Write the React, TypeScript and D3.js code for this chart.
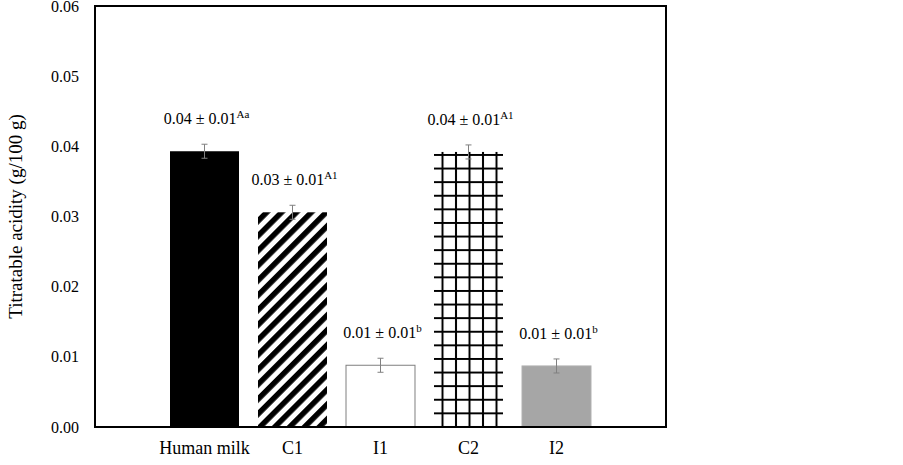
import React from 'react';
import * as d3 from 'd3';

const categories = ['Human milk', 'C1', 'I1', 'C2', 'I2'];
const means = [0.0393, 0.0306, 0.0088, 0.0392, 0.0087];
const errors = [0.001, 0.001, 0.001, 0.001, 0.001];
const labelMain = ['0.04 ± 0.01', '0.03 ± 0.01', '0.01 ± 0.01', '0.04 ± 0.01', '0.01 ± 0.01'];
const labelSup = ['Aa', 'A1', 'b', 'A1', 'b'];
const yTicks = [0, 0.01, 0.02, 0.03, 0.04, 0.05, 0.06];

const W = 903;
const H = 465;
const plot = { left: 95, right: 666, top: 6, bottom: 427 };
const font = '"Liberation Serif", "Times New Roman", serif';

const App = () => {
  const x = d3.scaleBand<string>()
    .domain(categories)
    .range([160.5, 600.5])
    .paddingInner(0.216)
    .paddingOuter(0.108);

  const y = d3.scaleLinear()
    .domain([0, 0.06])
    .range([plot.bottom, plot.top]);

  const bw = x.bandwidth();
  const fmt = d3.format('.2f');

  const c2x = x('C2') as number;
  const c2top = y(means[3]);

  const barFill = (c: string) => {
    if (c === 'Human milk') return '#000000';
    if (c === 'C1') return 'url(#stripes)';
    if (c === 'I1') return '#ffffff';
    if (c === 'C2') return 'url(#grid)';
    return '#a6a6a6';
  };
  const barStroke = (c: string) => {
    if (c === 'I1') return '#7f7f7f';
    if (c === 'I2') return '#b0b0b0';
    return 'none';
  };

  return (
    <div style={{ position: 'absolute', left: 0, top: 0 }}>
      <svg width={W} height={H} style={{ display: 'block', background: '#fff' }}>
        <defs>
          <pattern id="stripes" patternUnits="userSpaceOnUse" width={10.5} height={10.5}
            patternTransform="rotate(45)">
            <rect x={0} y={0} width={5.5} height={10.5} fill="#000" />
          </pattern>
          <pattern id="grid" patternUnits="userSpaceOnUse" width={13.5} height={13.6}
            x={c2x + 8.5 - 6.75} y={c2top + 3 - 6.8}>
            <line x1={6.75} x2={6.75} y1={0} y2={13.6} stroke="#000" strokeWidth={2} />
            <line x1={0} x2={13.5} y1={6.8} y2={6.8} stroke="#000" strokeWidth={2} />
          </pattern>
        </defs>

        {/* y tick labels */}
        {yTicks.map(t => (
          <text key={t} x={79} y={y(t)} dy="0.35em" textAnchor="end"
            fontFamily={font} fontSize={16} fill="#000">{fmt(t)}</text>
        ))}

        <text transform={`translate(22,${(plot.top + plot.bottom) / 2}) rotate(-90)`}
          textAnchor="middle" fontFamily={font} fontSize={19} fill="#000">
          Titratable acidity (g/100 g)
        </text>

        {/* bars */}
        {categories.map((c, i) => (
          <rect key={c} x={x(c)} y={y(means[i])} width={bw}
            height={y(0) - y(means[i])}
            fill={barFill(c)} stroke={barStroke(c)} strokeWidth={1} />
        ))}

        {/* error bars */}
        {categories.map((c, i) => {
          const cx = (x(c) as number) + bw / 2;
          const y1 = y(means[i] + errors[i]);
          const y2 = y(means[i] - errors[i]);
          return (
            <g key={c} stroke="#808080" strokeWidth={1}>
              <line x1={cx} x2={cx} y1={y1} y2={y2} />
              <line x1={cx - 3} x2={cx + 3} y1={y1} y2={y1} />
              <line x1={cx - 3} x2={cx + 3} y1={y2} y2={y2} />
            </g>
          );
        })}

        {/* value labels */}
        {categories.map((c, i) => (
          <text key={c} x={(x(c) as number) + bw / 2 + 2} y={y(means[i]) - 27}
            textAnchor="middle" fontFamily={font} fontSize={16} fill="#000">
            {labelMain[i]}
            <tspan fontSize={11} dy={-6}>{labelSup[i]}</tspan>
          </text>
        ))}

        {/* category labels */}
        {categories.map(c => (
          <text key={c} x={(x(c) as number) + bw / 2} y={plot.bottom + 27}
            textAnchor="middle" fontFamily={font} fontSize={18} fill="#000">{c}</text>
        ))}

        {/* frame */}
        <rect x={plot.left} y={plot.top} width={plot.right - plot.left}
          height={plot.bottom - plot.top} fill="none" stroke="#000" strokeWidth={2} />
      </svg>
    </div>
  );
};

export default App;
